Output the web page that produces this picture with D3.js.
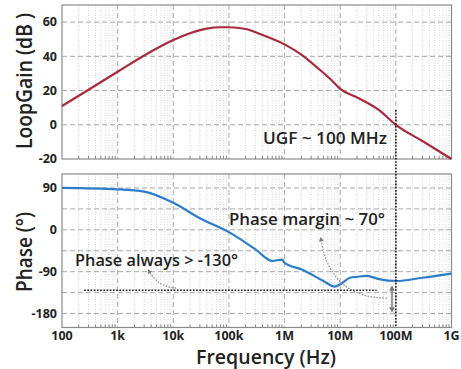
<!DOCTYPE html>
<html>
<head>
<meta charset="utf-8">
<script src="https://cdn.jsdelivr.net/npm/d3@7"></script>
<style>
  body { margin: 0; background: #fff; }
  text { font-family: "Open Sans", sans-serif; fill: #222; }
</style>
</head>
<body>
<div id="chart"></div>
<script>
// frequency points (Hz) and the values
const gainFreq = [100, 300, 1e3, 3e3, 1e4, 2e4, 4e4, 7e4, 1e5, 2e5, 4e5, 1e6, 2e6, 4e6, 7e6, 1e7, 2e7, 5e7, 1e8, 3e8, 1e9];
const gainDb   = [11, 20.5, 31, 40.5, 49.5, 53.5, 56.2, 57, 57, 56, 52.5, 47, 41, 33, 26, 21, 16, 8.5, 0, -9.5, -20];

const phaseFreq = [100, 1e3, 3e3, 1e4, 3e4, 1e5, 3e5, 6e5, 9e5, 1e6, 2e6, 5e6, 8e6, 1e7, 1.5e7, 2e7, 3e7, 5e7, 1e8, 3e8, 1e9];
const phaseDeg  = [90, 87, 82, 58, 25, -5, -42, -67, -64, -71, -85, -110, -122, -117, -103, -101, -99, -106, -110, -103, -94];

const xTickVals = [1e2, 1e3, 1e4, 1e5, 1e6, 1e7, 1e8, 1e9];
const xTickText = ["100", "1k", "10k", "100k", "1M", "10M", "100M", "1G"];
const gainTicks = [-20, 0, 20, 40, 60];
const phaseTicks = [-180, -90, 0, 90];

const W = 461, H = 369;
const L = 62, R = 451.5;

const svg = d3.select("#chart").append("svg")
    .attr("width", W)
    .attr("height", H);

const x = d3.scaleLog().domain([1e2, 1e9]).range([L, R]);

const yGain = d3.scaleLinear().domain([-20, 70]).range([159, 5]);
const yPhase = d3.scaleLinear().domain([-210, 120]).range([327.5, 174]);

// minor frequency positions 2..9 per decade
const minor = [];
for (let e = 2; e < 9; e++) {
    for (let m = 2; m <= 9; m++) minor.push(m * Math.pow(10, e));
}

function drawPanel(y, majorY, ticks, top, bottom) {
    const g = svg.append("g");

    g.selectAll(".minor").data(minor).enter().append("line")
        .attr("x1", d => x(d)).attr("x2", d => x(d))
        .attr("y1", top).attr("y2", bottom)
        .attr("stroke", "#c8c8c8")
        .attr("stroke-width", 0.8)
        .attr("stroke-dasharray", "1,1.5");

    g.selectAll(".vmajor").data(xTickVals.slice(1, -1)).enter().append("line")
        .attr("x1", d => x(d)).attr("x2", d => x(d))
        .attr("y1", top).attr("y2", bottom)
        .attr("stroke", "#a8a8a8")
        .attr("stroke-dasharray", "5,3");

    g.selectAll(".hmajor").data(majorY).enter().append("line")
        .attr("x1", L).attr("x2", R)
        .attr("y1", d => y(d)).attr("y2", d => y(d))
        .attr("stroke", "#a8a8a8")
        .attr("stroke-dasharray", "5,3");

    // small tick marks along the bottom edge
    g.selectAll(".tk").data(minor).enter().append("line")
        .attr("x1", d => x(d)).attr("x2", d => x(d))
        .attr("y1", bottom).attr("y2", bottom - 3)
        .attr("stroke", "#888");

    g.append("rect")
        .attr("x", L).attr("y", top)
        .attr("width", R - L).attr("height", bottom - top)
        .attr("fill", "none")
        .attr("stroke", "#8a8a8a")
        .attr("stroke-width", 1.2);

    g.selectAll(".ylab").data(ticks).enter().append("text")
        .attr("x", L - 5)
        .attr("y", d => y(d))
        .attr("dy", "0.35em")
        .attr("text-anchor", "end")
        .style("font-size", "12.5px")
        .style("font-weight", 700)
        .text(d => d);
}

drawPanel(yGain, [0, 20, 40, 60], gainTicks, 5, 159);
drawPanel(yPhase, [-180, -135, -90, -45, 0, 45, 90], phaseTicks, 174, 327.5);

// x tick labels
svg.selectAll(".xlab").data(xTickVals).enter().append("text")
    .attr("x", d => x(d))
    .attr("y", 339.5)
    .attr("text-anchor", "middle")
    .style("font-size", "12.5px")
    .style("font-weight", 700)
    .text((d, i) => xTickText[i]);

// axis titles
svg.append("text")
    .attr("x", 266).attr("y", 363.5)
    .attr("text-anchor", "middle")
    .attr("textLength", 140)
    .attr("lengthAdjust", "spacingAndGlyphs")
    .style("font-size", "19px")
    .style("font-weight", 600)
    .text("Frequency (Hz)");

svg.append("text")
    .attr("transform", "translate(32,81) rotate(-90)")
    .attr("text-anchor", "middle")
    .attr("textLength", 136)
    .attr("lengthAdjust", "spacingAndGlyphs")
    .style("font-size", "21px")
    .style("font-weight", 600)
    .text("LoopGain (dB )");

svg.append("text")
    .attr("transform", "translate(32,252) rotate(-90)")
    .attr("text-anchor", "middle")
    .attr("textLength", 80)
    .attr("lengthAdjust", "spacingAndGlyphs")
    .style("font-size", "21px")
    .style("font-weight", 600)
    .text("Phase (°)");

// curves
const gainLine = d3.line()
    .x((d, i) => x(gainFreq[i]))
    .y(d => yGain(d))
    .curve(d3.curveMonotoneX);

svg.append("path")
    .datum(gainDb)
    .attr("d", gainLine)
    .attr("fill", "none")
    .attr("stroke", "#a82a3c")
    .attr("stroke-width", 2.2);

const phaseLine = d3.line()
    .x((d, i) => x(phaseFreq[i]))
    .y(d => yPhase(d))
    .curve(d3.curveMonotoneX);

svg.append("path")
    .datum(phaseDeg)
    .attr("d", phaseLine)
    .attr("fill", "none")
    .attr("stroke", "#2a7dc8")
    .attr("stroke-width", 2.2);

// annotations
svg.append("defs").append("marker")
    .attr("id", "ah")
    .attr("viewBox", "0 0 10 10")
    .attr("refX", 5).attr("refY", 5)
    .attr("markerWidth", 4).attr("markerHeight", 4)
    .attr("orient", "auto-start-reverse")
    .append("path")
    .attr("d", "M0,0 L10,5 L0,10 Z")
    .attr("fill", "#777");

// UGF vertical marker
svg.append("line")
    .attr("x1", x(1e8)).attr("x2", x(1e8))
    .attr("y1", 110).attr("y2", 327)
    .attr("stroke", "#111")
    .attr("stroke-width", 1.6)
    .attr("stroke-dasharray", "1.6,1.6");

// -130 degree horizontal marker
svg.append("line")
    .attr("x1", x(250)).attr("x2", x(4.5e7))
    .attr("y1", yPhase(-130)).attr("y2", yPhase(-130))
    .attr("stroke", "#111")
    .attr("stroke-width", 1.6)
    .attr("stroke-dasharray", "1.6,1.6");

svg.append("text")
    .attr("x", 263).attr("y", 144)
    .attr("textLength", 124)
    .attr("lengthAdjust", "spacingAndGlyphs")
    .style("font-size", "17px")
    .style("font-weight", 600)
    .text("UGF ~ 100 MHz");

svg.append("text")
    .attr("x", 75).attr("y", 266)
    .attr("textLength", 163)
    .attr("lengthAdjust", "spacingAndGlyphs")
    .style("font-size", "17px")
    .style("font-weight", 600)
    .text("Phase always > -130°");

svg.append("text")
    .attr("x", 229).attr("y", 225)
    .attr("textLength", 156)
    .attr("lengthAdjust", "spacingAndGlyphs")
    .style("font-size", "17px")
    .style("font-weight", 600)
    .text("Phase margin ~ 70°");

// curved dotted arrows
svg.append("path")
    .attr("d", "M176,288 Q158,287 149,271")
    .attr("fill", "none")
    .attr("stroke", "#888")
    .attr("stroke-width", 1.2)
    .attr("stroke-dasharray", "1.5,1.5")
    .attr("marker-end", "url(#ah)");

svg.append("path")
    .attr("d", "M387,298 Q330,298 321,239")
    .attr("fill", "none")
    .attr("stroke", "#888")
    .attr("stroke-width", 1.2)
    .attr("stroke-dasharray", "1.5,1.5")
    .attr("marker-end", "url(#ah)");

svg.append("line")
    .attr("x1", 392).attr("x2", 392)
    .attr("y1", 288).attr("y2", 310)
    .attr("stroke", "#777")
    .attr("stroke-width", 1.4)
    .attr("marker-start", "url(#ah)")
    .attr("marker-end", "url(#ah)");
</script>
</body>
</html>
